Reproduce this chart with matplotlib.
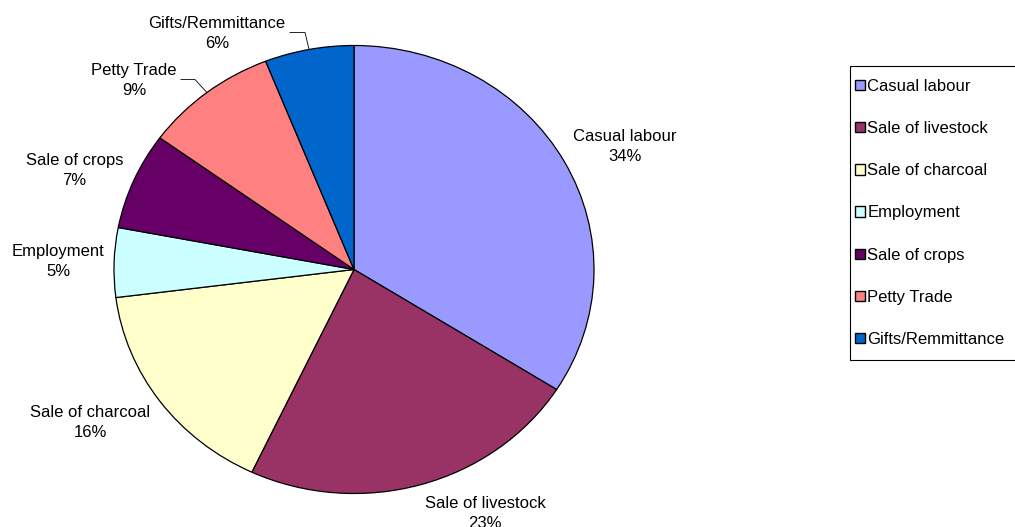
import matplotlib
matplotlib.use("Agg")
import matplotlib.pyplot as plt
from matplotlib.patches import Rectangle
import numpy as np

categories = ["Casual labour", "Sale of livestock", "Sale of charcoal", "Employment",
              "Sale of crops", "Petty Trade", "Gifts/Remmittance"]
values = [34, 23, 16, 5, 7, 9, 6]
colors = ["#9999FF", "#993366", "#FFFFCC", "#CCFFFF", "#660066", "#FF8080", "#0066CC"]

# label block centres (normalised pie coordinates)
label_pos = [(1.13, 0.55), (0.546, -1.09), (-1.10, -0.683), (-1.233, 0.036),
             (-1.165, 0.442), (-0.917, 0.844), (-0.572, 1.055)]
# leader line elbows for small slices (normalised coords): index -> [elbow, end]
leaders = {5: [(-0.6625, 0.848), (-0.721, 0.848)],
           6: [(-0.204, 1.058), (-0.267, 1.058)]}

plt.rcParams['font.family'] = ['Liberation Sans', 'DejaVu Sans']
FS = 12

fig = plt.figure(figsize=(10.15, 5.27), dpi=100)
W, H = 1015, 527
ax = fig.add_axes([114 / W, (H - 493.5) / H, 480 / W, 448 / H])

wedges, _ = ax.pie(values, colors=colors, startangle=90, counterclock=False,
                   wedgeprops=dict(edgecolor="black", linewidth=0.9))
ax.set_aspect('auto')
ax.set_xlim(-1, 1)
ax.set_ylim(-1, 1)
ax.axis('off')

total = sum(values)
for i, (cat, v) in enumerate(zip(categories, values)):
    pct = f"{round(100 * v / total)}%"
    x, y = label_pos[i]
    ax.text(x, y, f"{cat}\n{pct}", ha="center", va="center", fontsize=FS,
            linespacing=1.4, clip_on=False)
    if i in leaders:
        w = wedges[i]
        mid = np.deg2rad((w.theta1 + w.theta2) / 2)
        pts = [(np.cos(mid), np.sin(mid))] + leaders[i]
        xs, ys = zip(*pts)
        ax.plot(xs, ys, color="black", linewidth=0.6, clip_on=False)

# legend frame
fig.patches.append(Rectangle((850 / W, 1 - 360 / H), 170 / W, (360 - 66) / H,
                             transform=fig.transFigure, facecolor="white",
                             edgecolor="black", linewidth=0.8, zorder=0))
leg = fig.legend(wedges, categories, loc="upper left",
                 bbox_to_anchor=(855 / W, 1 - 79 / H), fontsize=FS,
                 frameon=False,
                 handlelength=0.58, handleheight=0.58, handletextpad=0.15,
                 labelspacing=1.63, borderpad=0, borderaxespad=0)
for h in leg.legend_handles:
    h.set_edgecolor("black")
    h.set_linewidth(1.0)

fig.savefig("out.png", dpi=100)
